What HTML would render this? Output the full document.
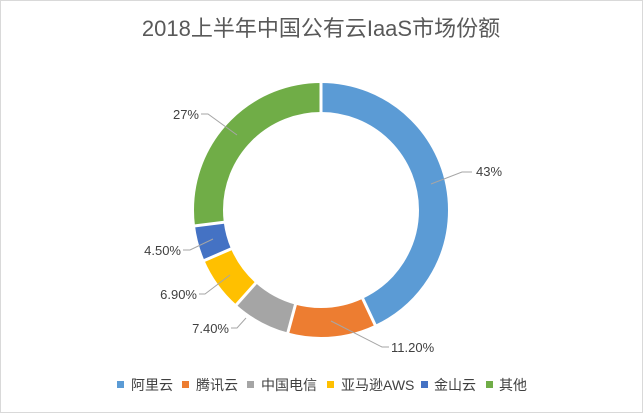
<!DOCTYPE html>
<html><head><meta charset="utf-8"><style>
body{margin:0;background:#fff}
svg text{font-family:"Liberation Sans","Noto Sans CJK SC",sans-serif;fill:#404040}
</style></head><body>
<svg width="643" height="413" viewBox="0 0 643 413" xmlns="http://www.w3.org/2000/svg">
<rect x="0.5" y="0.5" width="642" height="412" fill="#fff" stroke="#d9d9d9"/>
<text x="321" y="36" text-anchor="middle" font-size="22" style="fill:#595959">2018上半年中国公有云IaaS市场份额</text>
<g transform="rotate(-90 321 210)" fill="none" stroke-width="29">
<circle cx="321" cy="210" r="112.5" stroke="#5b9bd5" stroke-dasharray="303.95 706.86" stroke-dashoffset="0"/>
<circle cx="321" cy="210" r="112.5" stroke="#ed7d31" stroke-dasharray="79.17 706.86" stroke-dashoffset="-303.95"/>
<circle cx="321" cy="210" r="112.5" stroke="#a5a5a5" stroke-dasharray="52.31 706.86" stroke-dashoffset="-383.12"/>
<circle cx="321" cy="210" r="112.5" stroke="#ffc000" stroke-dasharray="48.77 706.86" stroke-dashoffset="-435.43"/>
<circle cx="321" cy="210" r="112.5" stroke="#4472c4" stroke-dasharray="31.81 706.86" stroke-dashoffset="-484.20"/>
<circle cx="321" cy="210" r="112.5" stroke="#70ad47" stroke-dasharray="190.85 706.86" stroke-dashoffset="-516.01"/>
</g>
<g stroke="#fff" stroke-width="3">
<line x1="321" y1="210" x2="321" y2="80"/>
<line x1="321" y1="210" x2="376.4" y2="327.6"/>
<line x1="321" y1="210" x2="287.1" y2="335.5"/>
<line x1="321" y1="210" x2="234.4" y2="307"/>
<line x1="321" y1="210" x2="201.7" y2="261.6"/>
<line x1="321" y1="210" x2="192" y2="226.3"/>
</g>
<circle cx="321" cy="210" r="97" fill="#fff"/>
<g stroke="#a6a6a6" fill="none" stroke-width="1">
<polyline points="431,184 462,172 472,172"/>
<polyline points="331,321 382,347 389,347"/>
<polyline points="246,318 237,328 231,328"/>
<polyline points="230,275 205,294 199,294"/>
<polyline points="213,239 190,250 183,250"/>
<polyline points="237,135 208,114 201,114"/>
</g>
<g font-size="13">
<text x="476" y="176">43%</text>
<text x="391" y="352">11.20%</text>
<text x="229" y="333" text-anchor="end">7.40%</text>
<text x="197" y="299" text-anchor="end">6.90%</text>
<text x="181" y="255" text-anchor="end">4.50%</text>
<text x="199" y="119" text-anchor="end">27%</text>
</g>
<g font-size="14">
<rect x="117" y="381" width="7" height="7" fill="#5b9bd5"/><text x="131" y="390">阿里云</text>
<rect x="182" y="381" width="7" height="7" fill="#ed7d31"/><text x="196" y="390">腾讯云</text>
<rect x="247" y="381" width="7" height="7" fill="#a5a5a5"/><text x="261" y="390">中国电信</text>
<rect x="327" y="381" width="7" height="7" fill="#ffc000"/><text x="341" y="390">亚马逊AWS</text>
<rect x="421" y="381" width="7" height="7" fill="#4472c4"/><text x="434" y="390">金山云</text>
<rect x="486" y="381" width="7" height="7" fill="#70ad47"/><text x="499" y="390">其他</text>
</g>
</svg>
</body></html>
